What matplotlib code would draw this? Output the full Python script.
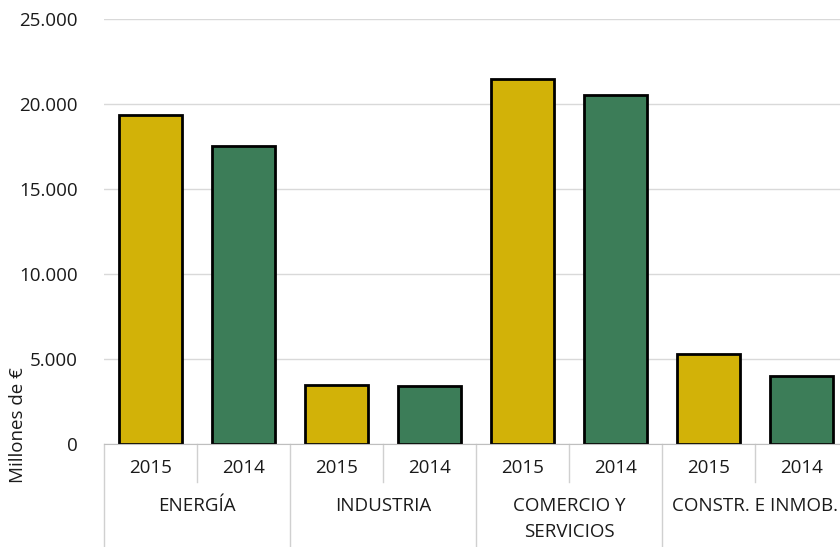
import matplotlib.pyplot as plt
import matplotlib.transforms as mtransforms

# Datos (millones de euros)
grupos = ["ENERGÍA", "INDUSTRIA", "COMERCIO Y\nSERVICIOS", "CONSTR. E INMOB."]
anios = ["2015", "2014"]
valores_2015 = [19350, 3470, 21480, 5300]
valores_2014 = [17550, 3420, 20520, 4020]

color_2015 = "#D2B208"
color_2014 = "#3C7D58"

plt.rcParams['font.family'] = ['Open Sans', 'DejaVu Sans']
fs = 13.5

fig = plt.figure(figsize=(8.4, 5.47), dpi=100)
ax = fig.add_axes([104 / 840, 1 - 444 / 547, 744 / 840, 425 / 547])

# intercalar años dentro de cada grupo
alturas = []
colores = []
etiquetas = []
for v15, v14 in zip(valores_2015, valores_2014):
    alturas += [v15, v14]
    colores += [color_2015, color_2014]
    etiquetas += anios
pos = list(range(len(alturas)))

ax.bar(pos, alturas, width=0.68, color=colores, edgecolor="black", linewidth=2, zorder=3)

ax.set_xlim(-0.5, len(alturas) - 0.5)
ax.set_ylim(0, 25000)
ax.set_yticks(range(0, 25001, 5000))
ax.set_yticklabels([f"{v:,}".replace(",", ".") for v in range(0, 25001, 5000)],
                   fontsize=fs, color="#1a1a1a")
ax.tick_params(axis="y", length=0, pad=19)
ax.set_xticks([])
ax.grid(axis="y", color="#d9d9d9", linewidth=1, zorder=0)
for s in ["top", "right", "left"]:
    ax.spines[s].set_visible(False)
ax.spines["bottom"].set_color("#bfbfbf")
ax.spines["bottom"].set_zorder(4)

trans = mtransforms.blended_transform_factory(ax.transData, ax.transAxes)

# etiquetas de año
for p, e in zip(pos, etiquetas):
    ax.text(p, -0.057, e, transform=trans, ha="center", va="center",
            fontsize=fs, color="#1a1a1a")

# separadores
for i in range(len(alturas) + 1):
    x = i - 0.5
    if i % 2 == 0:
        ax.plot([x, x], [0, -0.245], transform=trans, color="#d0d0d0", lw=1, clip_on=False)
    else:
        ax.plot([x, x], [0, -0.09], transform=trans, color="#d0d0d0", lw=1, clip_on=False)

# etiquetas de grupo
for g, nombre in enumerate(grupos):
    ax.text(2 * g + 0.5, -0.125, nombre, transform=trans, ha="center", va="top",
            fontsize=fs, color="#1a1a1a", linespacing=1.55)

fig.text(18 / 840, 1 - 425 / 547, "Millones de €", rotation=90, ha="center", va="center",
         fontsize=fs, color="#1a1a1a")

fig.savefig("out.png", dpi=100)
